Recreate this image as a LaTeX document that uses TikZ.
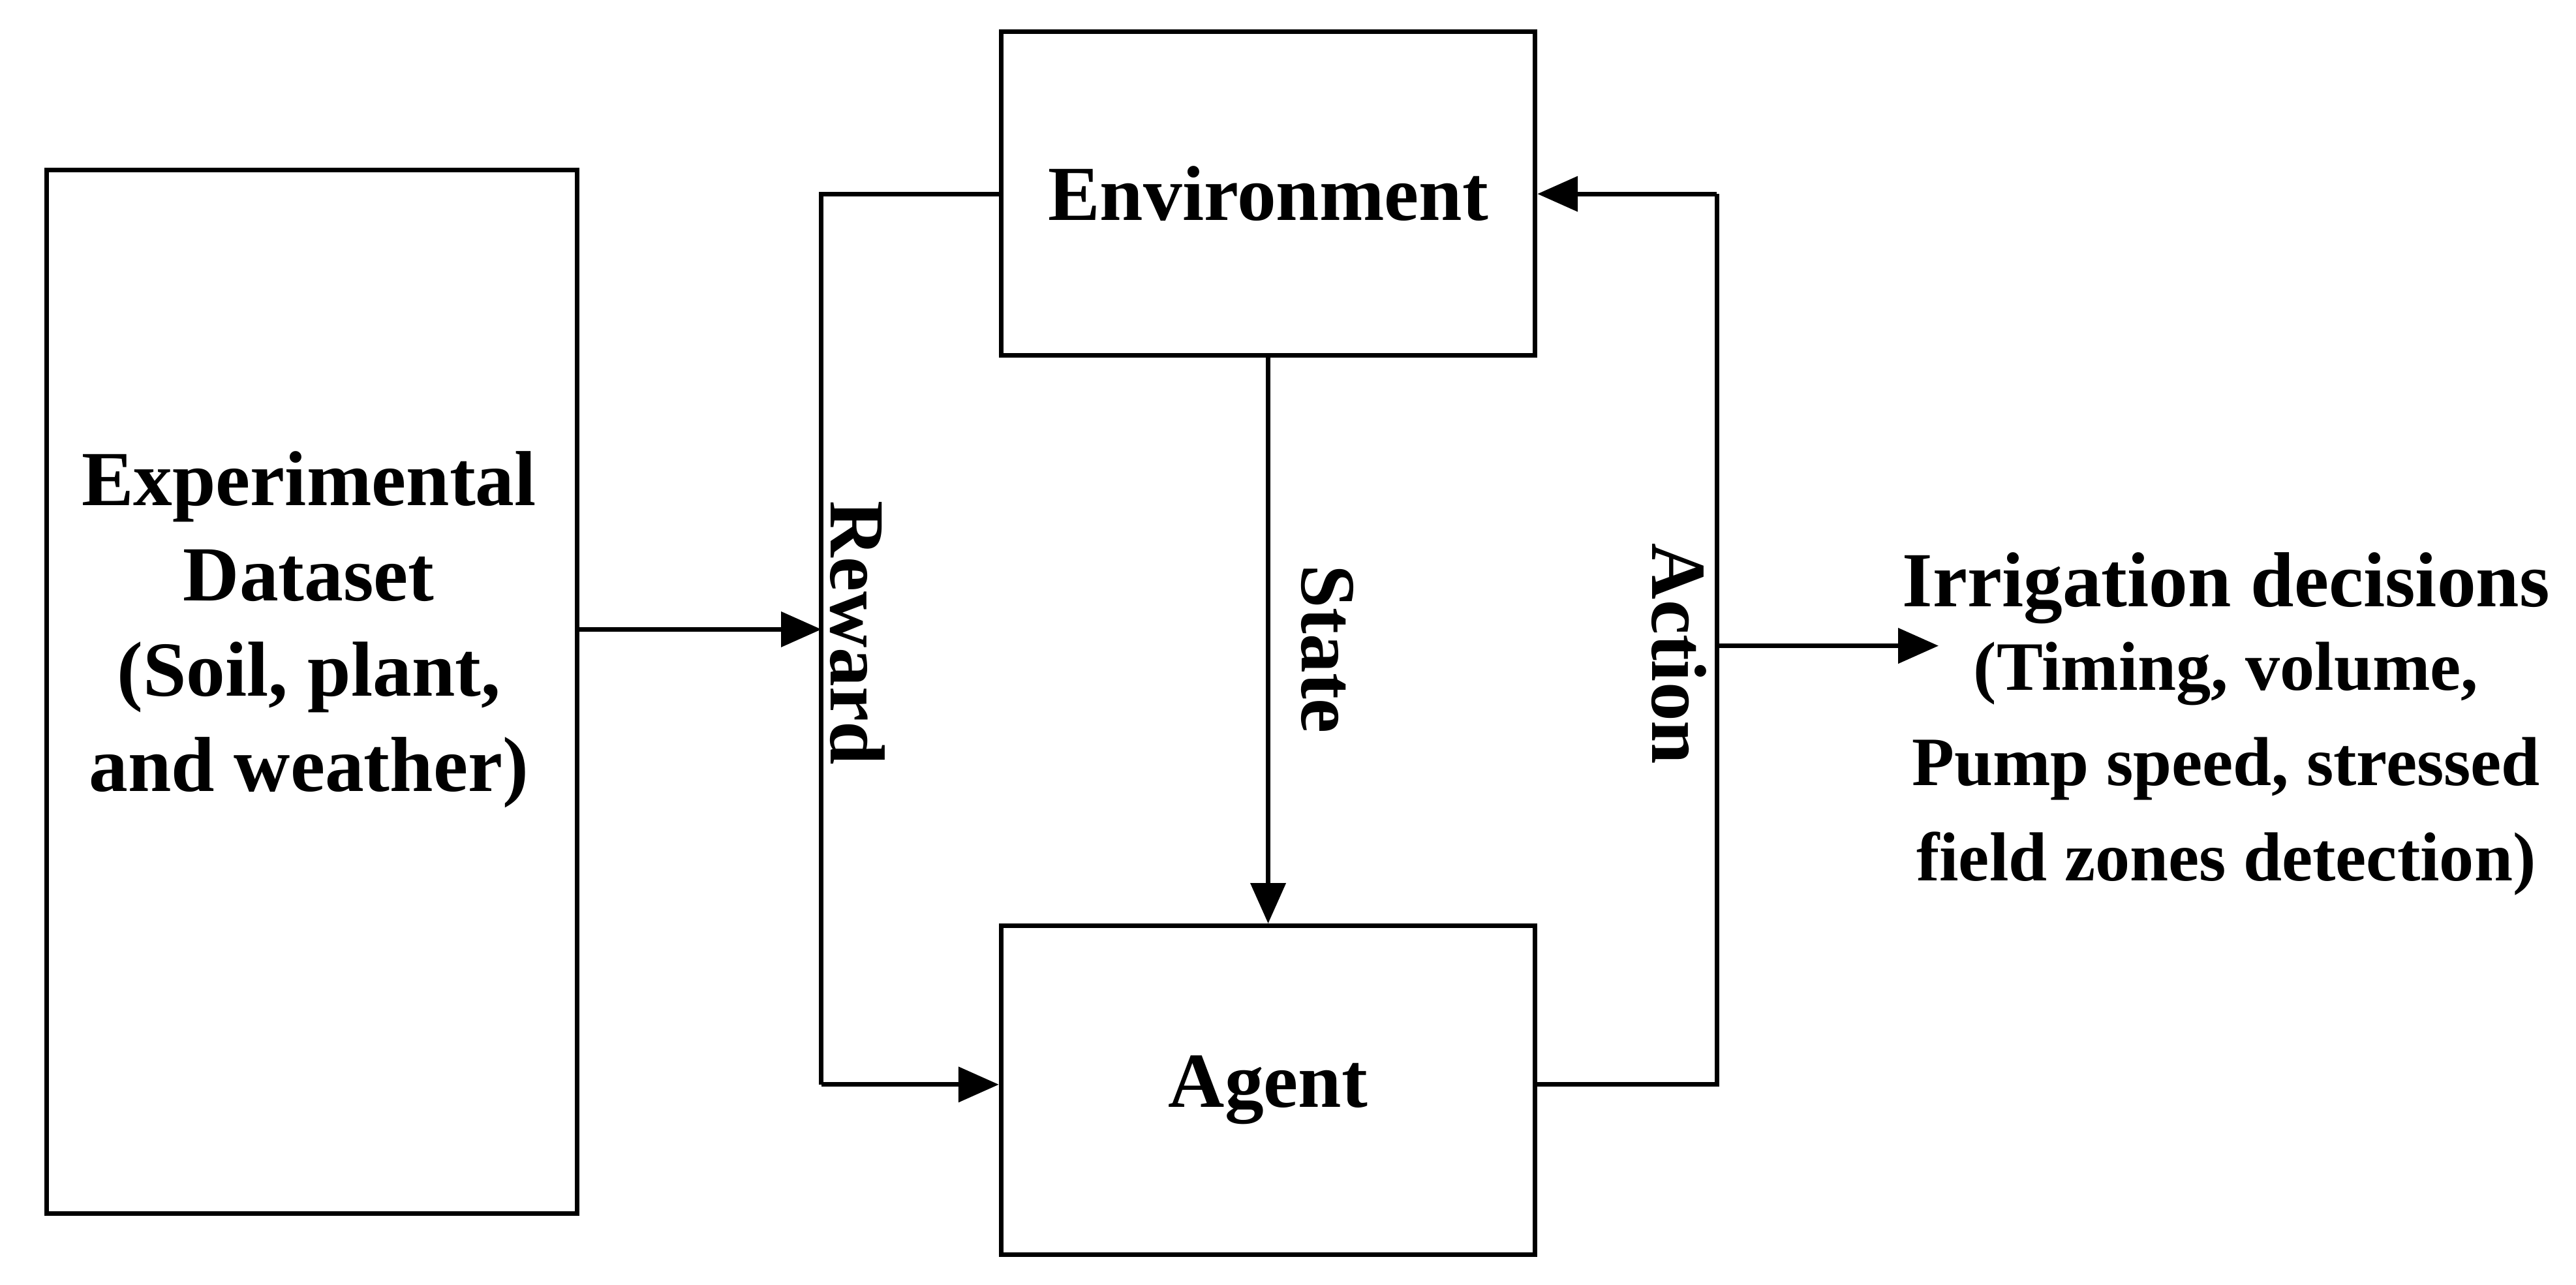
\documentclass[tikz,border=0pt]{standalone}
\usepackage{fontspec}
\setmainfont{Liberation Serif}
\usetikzlibrary{arrows.meta}
\begin{document}
\begin{tikzpicture}[x=0.02cm,y=-0.02cm,
  box/.style={draw,line width=1.6pt},
  conn/.style={line width=1.6pt,-{Triangle[length=14pt,width=12pt]}},
  plain/.style={line width=1.6pt},
  lbl/.style={font=\fontsize{27}{33}\selectfont\bfseries,align=center}]
\useasboundingbox (0,0) rectangle (1568,782);
\node[box,minimum width=323*0.02cm,minimum height=635*0.02cm,anchor=north west] (ds) at (27,102) {};
\node[lbl] at (188,383) {Experimental\\Dataset\\(Soil, plant,\\and weather)};
\node[box,minimum width=325*0.02cm,minimum height=197*0.02cm,anchor=north west,lbl] (env) at (608,18) {Environment};
\node[box,minimum width=325*0.02cm,minimum height=200*0.02cm,anchor=north west,lbl] (ag) at (608,562) {Agent};
\coordinate (r1) at (500,118);
\coordinate (r2) at (500,660);
\coordinate (rm) at (500,383);
\coordinate (a1) at (1045,660);
\coordinate (a2) at (1045,118);
\coordinate (am) at (1045,393);
\coordinate (out) at (1180,393);
\draw[plain] (env.west|-r1) -- (r1) -- (r2);
\draw[conn] (r2) -- (ag.west|-r2);
\draw[conn] (ds.east|-rm) -- (rm);
\draw[conn] (env.south) -- (ag.north);
\draw[plain] (ag.east|-a1) -- (a1) -- (a2);
\draw[conn] (a2) -- (env.east|-a2);
\draw[conn] (am) -- (out);
\node[lbl,rotate=-90] at (522,385) {Reward};
\node[lbl,rotate=-90] at (808,395) {State};
\node[lbl,rotate=-90] at (1022,398) {Action};
\node[lbl,anchor=north] at (1355,330) {Irrigation decisions\\[-4pt]\fontsize{24}{29}\selectfont(Timing, volume,\\\fontsize{24}{29}\selectfont Pump speed, stressed\\\fontsize{24}{29}\selectfont field zones detection)};
\end{tikzpicture}
\end{document}
